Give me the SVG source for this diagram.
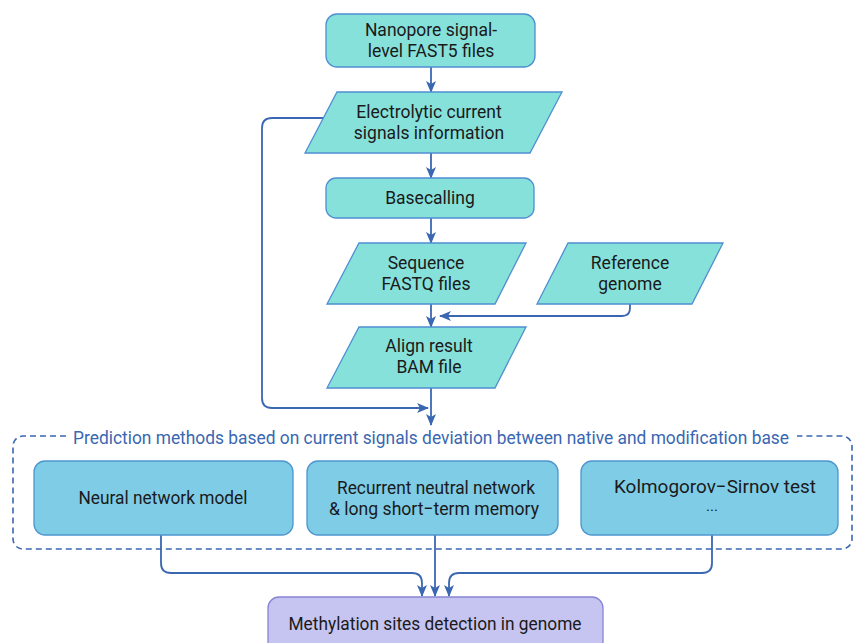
<svg xmlns="http://www.w3.org/2000/svg" width="854" height="643" viewBox="0 0 854 643">
<defs>
<marker id="ah" viewBox="0 0 12 10" refX="11" refY="5" markerWidth="12" markerHeight="10" markerUnits="userSpaceOnUse" orient="auto">
<path d="M0,0 L12,5 L0,10 L3,5 z" fill="#3a67b1"/>
</marker>
<style>
.t{fill:#86e1da;stroke:#4f8fd1;stroke-width:1.3}
.b{fill:#7fcce6;stroke:#4d96cf;stroke-width:1.3}
.p{fill:#c6c4f0;stroke:#8884d6;stroke-width:1.3}
.c{fill:none;stroke:#3a67b1;stroke-width:1.8}
.a{marker-end:url(#ah)}
text{font-family:Roboto,"Liberation Sans",sans-serif;fill:#1a1a1a;text-anchor:middle}
.f{font-size:17.5px}
.g{font-size:19px}
</style>
</defs>
<rect x="0" y="0" width="854" height="643" fill="#ffffff"/>
<g id="prediction-group">
<path d="M66,436 H23 A10,10 0 0 0 13,446 V539 A10,10 0 0 0 23,549 H842 A10,10 0 0 0 852,539 V446 A10,10 0 0 0 842,436 H797" fill="none" stroke="#3a67b1" stroke-width="1.6" stroke-dasharray="6 4"/>
<text x="431" y="444" style="fill:#3a67b1;font-size:17.5px" textLength="716" lengthAdjust="spacingAndGlyphs">Prediction methods based on current signals deviation between native and modification base</text>
</g>
<g id="connectors">
<path class="c a" d="M431,67 V92"/>
<path class="c a" d="M431,153 V178"/>
<path class="c a" d="M431,218 V243"/>
<path class="c a" d="M431,304 V327"/>
<path class="c a" d="M431,388 V425"/>
<path class="c a" d="M323,118 H272 Q262,118 262,128 V398 Q262,408 272,408 H428"/>
<path class="c a" d="M630,304 V308 Q630,316 622,316 H440"/>
<path class="c a" d="M161,535 V563 Q161,573 171,573 H412 Q422,573 422,583 V596"/>
<path class="c a" d="M435,535 V596"/>
<path class="c a" d="M712,535 V563 Q712,573 702,573 H459 Q449,573 449,583 V596"/>
</g>
<g id="fast5">
<rect class="t" x="326" y="14" width="209" height="53" rx="11"/>
<text x="431" y="36" class="f">Nanopore signal-</text>
<text x="431" y="57" class="f">level FAST5 files</text>
</g>
<g id="electrolytic">
<polygon class="t" points="337,92 562,92 530,153 305,153"/>
<text x="429" y="118" class="f">Electrolytic current</text>
<text x="429" y="139" class="f">signals information</text>
</g>
<g id="basecalling">
<rect class="t" x="326" y="178" width="208" height="40" rx="10"/>
<text x="430" y="204" class="f">Basecalling</text>
</g>
<g id="fastq">
<polygon class="t" points="359,243 526,243 495,304 327,304"/>
<text x="426" y="269" class="f">Sequence</text>
<text x="426" y="290" class="f">FASTQ files</text>
</g>
<g id="reference">
<polygon class="t" points="568,243 723,243 692,304 537,304"/>
<text x="630" y="269" class="f">Reference</text>
<text x="630" y="290" class="f">genome</text>
</g>
<g id="align">
<polygon class="t" points="359,327 526,327 495,388 327,388"/>
<text x="429" y="352" class="f">Align result</text>
<text x="429" y="373" class="f">BAM file</text>
</g>
<g id="neural">
<rect class="b" x="34" y="461" width="259" height="74" rx="11"/>
<text x="163" y="504" class="g" textLength="169" lengthAdjust="spacingAndGlyphs">Neural network model</text>
</g>
<g id="rnn">
<rect class="b" x="307" y="461" width="251" height="74" rx="11"/>
<text x="436" y="494" class="g" textLength="198" lengthAdjust="spacingAndGlyphs">Recurrent neutral network</text>
<text x="434" y="515" class="g" textLength="210" lengthAdjust="spacingAndGlyphs">&amp; long short−term memory</text>
</g>
<g id="ks">
<rect class="b" x="581" y="461" width="257" height="74" rx="11"/>
<text x="715" y="493" class="g" textLength="202" lengthAdjust="spacingAndGlyphs">Kolmogorov−Sirnov test</text>
<text x="712" y="516" style="font-size:15px">···</text>
</g>
<g id="methylation">
<rect class="p" x="268" y="597" width="335" height="60" rx="11"/>
<text x="435" y="630" class="g" textLength="293" lengthAdjust="spacingAndGlyphs">Methylation sites detection in genome</text>
</g>
</svg>
